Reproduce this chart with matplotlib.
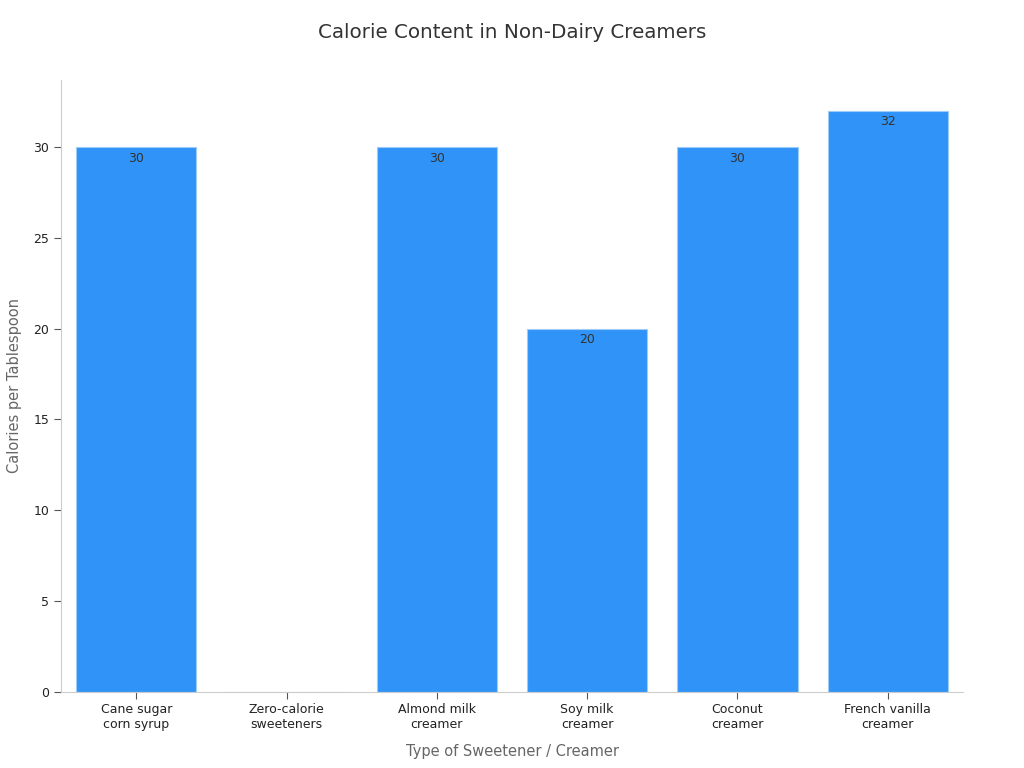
import matplotlib
matplotlib.use("Agg")
import matplotlib.pyplot as plt

categories = ["Cane sugar\ncorn syrup", "Zero-calorie\nsweeteners", "Almond milk\ncreamer",
              "Soy milk\ncreamer", "Coconut\ncreamer", "French vanilla\ncreamer"]
calories = [30, 0, 30, 20, 30, 32]

fig = plt.figure(figsize=(10.24, 7.68), dpi=100)
ax = fig.add_axes([0.0596, 0.0996, 0.8808, 0.7964])

bars = ax.bar(range(len(categories)), calories, width=0.8, color="#2f93f8",
              edgecolor="#9fcbf7", linewidth=0.8)

# value labels inside the top of each bar (skip zero)
for rect, v in zip(bars, calories):
    if v > 0:
        ax.text(rect.get_x() + rect.get_width() / 2, v - 0.25, str(v),
                ha="center", va="top", fontsize=9, color="#333333")

ax.set_xlim(-0.5, 5.5)
ax.set_ylim(0, 33.7)
ax.set_yticks([0, 5, 10, 15, 20, 25, 30])
ax.set_xticks(range(len(categories)))
ax.set_xticklabels(categories, fontsize=9, color="#222222")
ax.tick_params(axis="y", labelsize=9, colors="#222222")
ax.tick_params(color="#555555", length=5)

for s in ["top", "right"]:
    ax.spines[s].set_visible(False)
for s in ["left", "bottom"]:
    ax.spines[s].set_color("#cccccc")

ax.set_xlabel("Type of Sweetener / Creamer", fontsize=10.5, color="#666666", labelpad=9)
ax.set_ylabel("Calories per Tablespoon", fontsize=10.5, color="#666666", labelpad=8)
fig.suptitle("Calorie Content in Non-Dairy Creamers", fontsize=14.3, color="#333333", y=0.97)

fig.savefig("out.png", dpi=100)
